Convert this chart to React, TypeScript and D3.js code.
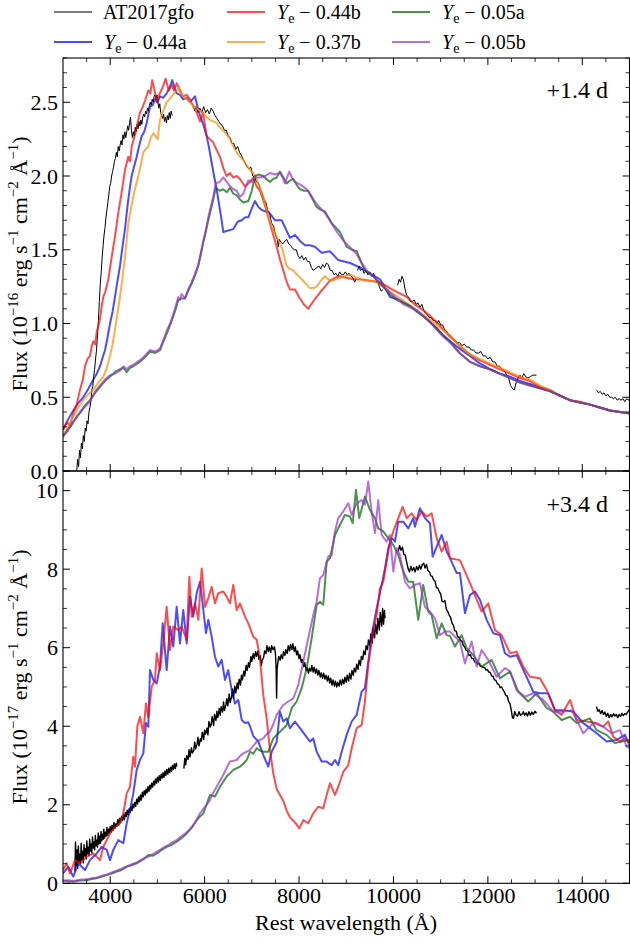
import React from 'react';
import * as d3 from 'd3';

type P = [number, number];

// ---------- axis ticks ----------
const X_MAJOR = [4000, 6000, 8000, 10000, 12000, 14000];
const TOP_YTICKS = [0, 0.5, 1.0, 1.5, 2.0, 2.5];
const BOT_YTICKS = [0, 2, 4, 6, 8, 10];

// ---------- top panel (+1.4 d) ----------
const obsTop1: P[] = [[3290,0.0],[3310,0.08],[3330,0.03],[3350,0.14],[3370,0.09],[3390,0.19],[3410,0.15],[3430,0.24],[3450,0.2],[3470,0.29],[3490,0.27],[3510,0.34],[3530,0.32],[3550,0.4],[3570,0.43],[3590,0.47],[3610,0.55],[3630,0.57],[3650,0.64],[3670,0.69],[3690,0.76],[3710,0.82],[3730,0.92],[3750,1.02],[3770,1.15],[3790,1.27],[3810,1.35],[3830,1.45],[3850,1.53],[3870,1.6],[3890,1.65],[3910,1.72],[3930,1.77],[3950,1.82],[3970,1.87],[3990,1.93],[4010,1.95],[4030,2.0],[4050,2.03],[4070,2.06],[4090,2.1],[4110,2.12],[4130,2.16],[4150,2.13],[4170,2.2],[4190,2.17],[4210,2.21],[4230,2.24],[4250,2.21],[4270,2.28],[4290,2.25],[4310,2.3],[4330,2.26],[4350,2.3],[4370,2.34],[4390,2.31],[4410,2.36],[4430,2.4],[4450,2.31],[4470,2.26],[4490,2.3],[4510,2.27],[4530,2.33],[4550,2.3],[4570,2.35],[4590,2.32],[4610,2.37],[4630,2.34],[4650,2.38],[4670,2.35],[4690,2.4],[4710,2.42],[4730,2.4],[4750,2.44],[4770,2.42],[4790,2.46],[4810,2.44],[4830,2.48],[4850,2.5],[4870,2.48],[4890,2.52],[4910,2.5],[4930,2.54],[4950,2.55],[4970,2.52],[4990,2.55],[5010,2.5],[5030,2.46],[5050,2.49],[5070,2.43],[5090,2.41],[5110,2.39],[5130,2.42],[5150,2.37],[5170,2.4],[5190,2.36],[5210,2.41],[5230,2.38],[5250,2.43],[5270,2.39],[5290,2.44],[5315,2.41]];
const obsTop2: P[] = [[5780,2.44],[5820,2.47],[5860,2.43],[5900,2.46],[5940,2.43],[5980,2.47],[6020,2.43],[6060,2.45],[6100,2.42],[6140,2.46],[6180,2.44],[6220,2.41],[6260,2.39],[6300,2.37],[6340,2.35],[6380,2.34],[6420,2.31],[6460,2.31],[6500,2.27],[6540,2.26],[6580,2.22],[6620,2.22],[6660,2.18],[6700,2.2],[6740,2.16],[6780,2.14],[6820,2.11],[6860,2.09],[6900,2.06],[6940,2.05],[6980,2.06],[7020,2.0],[7060,1.99],[7100,1.96],[7140,1.95],[7180,1.91],[7220,1.88],[7260,1.84],[7300,1.82],[7340,1.76],[7380,1.74],[7420,1.68],[7460,1.66],[7500,1.6],[7540,1.57],[7560,1.52],[7580,1.57],[7620,1.55],[7660,1.54],[7700,1.56],[7740,1.57],[7780,1.54],[7820,1.53],[7860,1.51],[7900,1.5],[7940,1.5],[7980,1.46],[8020,1.44],[8060,1.46],[8100,1.43],[8140,1.45],[8180,1.42],[8220,1.42],[8260,1.38],[8300,1.36],[8340,1.37],[8380,1.38],[8420,1.39],[8460,1.37],[8500,1.4],[8540,1.38],[8580,1.41],[8620,1.4],[8660,1.36],[8700,1.36],[8740,1.33],[8780,1.34],[8820,1.32],[8860,1.35],[8900,1.33],[8940,1.33],[8980,1.35],[9020,1.33],[9060,1.34],[9100,1.32],[9140,1.31],[9180,1.28],[9206,1.3]];
const obsTop3: P[] = [[9240,1.36],[9270,1.39],[9300,1.36],[9340,1.37],[9380,1.34],[9420,1.36],[9460,1.33],[9500,1.35],[9540,1.32],[9580,1.34],[9620,1.3],[9660,1.29],[9700,1.25],[9740,1.22],[9780,1.23]];
const obsTop4: P[] = [[10090,1.26],[10120,1.3],[10150,1.28],[10180,1.32],[10210,1.3],[10240,1.24],[10280,1.19],[10320,1.18],[10360,1.15],[10400,1.15],[10440,1.16],[10480,1.13],[10520,1.14],[10560,1.11],[10600,1.13],[10640,1.09],[10680,1.07],[10720,1.06],[10760,1.04],[10800,1.04],[10840,1.02],[10880,1.02],[10920,1.0],[10960,1.02],[11000,0.99],[11040,0.99],[11080,0.96],[11120,0.95],[11160,0.93],[11200,0.92],[11250,0.9],[11300,0.89],[11350,0.87],[11400,0.87],[11450,0.85],[11500,0.86],[11550,0.84],[11600,0.84],[11650,0.82],[11700,0.82],[11750,0.8],[11800,0.8],[11850,0.81],[11900,0.78],[11950,0.78],[12000,0.76],[12050,0.77],[12100,0.74],[12150,0.74],[12200,0.71],[12250,0.71],[12300,0.69],[12350,0.68],[12400,0.65],[12440,0.63],[12480,0.58],[12520,0.56],[12560,0.55],[12600,0.6],[12640,0.63],[12680,0.65],[12720,0.63],[12760,0.66],[12800,0.64],[12850,0.63],[12900,0.64],[12950,0.65],[13030,0.65]];
const obsTop5: P[] = [[14300,0.55],[14340,0.53],[14380,0.54],[14420,0.52],[14460,0.53],[14500,0.51],[14540,0.52],[14580,0.5],[14620,0.5],[14660,0.49],[14700,0.5],[14740,0.48],[14780,0.49],[14820,0.48],[14860,0.49],[14900,0.47],[14940,0.49],[14980,0.48],[15000,0.49]];

const topYe044a: P[] = [[3000,0.28],[3110,0.35],[3218,0.41],[3320,0.46],[3430,0.5],[3540,0.56],[3642,0.62],[3714,0.66],[3784,0.71],[3840,0.77],[3890,0.82],[3940,0.9],[3996,1.0],[4050,1.08],[4101,1.18],[4150,1.28],[4207,1.39],[4260,1.52],[4313,1.64],[4350,1.75],[4383,1.84],[4420,1.93],[4455,2.0],[4510,2.07],[4561,2.13],[4610,2.2],[4667,2.27],[4720,2.3],[4773,2.36],[4843,2.47],[4900,2.48],[4949,2.52],[5000,2.5],[5054,2.54],[5120,2.53],[5196,2.56],[5260,2.6],[5315,2.65],[5360,2.6],[5408,2.56],[5480,2.55],[5548,2.52],[5620,2.53],[5690,2.5],[5740,2.52],[5796,2.54],[5850,2.47],[5902,2.41],[5970,2.35],[6044,2.27],[6100,2.18],[6149,2.09],[6200,2.0],[6255,1.91],[6290,1.84],[6325,1.77],[6360,1.7],[6395,1.62],[6500,1.63],[6607,1.64],[6700,1.69],[6785,1.7],[6860,1.72],[6925,1.72],[7000,1.78],[7067,1.83],[7140,1.79],[7208,1.77],[7280,1.76],[7348,1.76],[7420,1.73],[7490,1.7],[7560,1.7],[7632,1.7],[7720,1.64],[7808,1.58],[7914,1.6],[8020,1.56],[8126,1.53],[8230,1.53],[8337,1.52],[8479,1.48],[8655,1.49],[8831,1.43],[8950,1.42],[9079,1.41],[9290,1.38],[9502,1.34],[9714,1.3],[9830,1.24],[9926,1.18],[10138,1.16],[10300,1.13],[10491,1.09],[10670,1.04],[10843,0.99],[11020,0.93],[11197,0.88],[11400,0.83],[11620,0.78],[11830,0.73],[12044,0.69],[12250,0.66],[12468,0.64],[12680,0.61],[12891,0.59],[13100,0.565],[13315,0.545],[13530,0.51],[13739,0.48],[13950,0.465],[14163,0.45],[14370,0.43],[14586,0.41],[14800,0.4],[15010,0.39]];
const topYe044b: P[] = [[3000,0.28],[3080,0.33],[3150,0.31],[3218,0.39],[3290,0.45],[3360,0.55],[3420,0.62],[3466,0.71],[3520,0.76],[3572,0.78],[3610,0.85],[3642,0.88],[3680,0.86],[3714,0.94],[3784,1.03],[3820,1.12],[3854,1.18],[3900,1.22],[3960,1.3],[4031,1.45],[4101,1.59],[4171,1.75],[4243,1.89],[4313,2.04],[4383,2.13],[4420,2.1],[4455,2.2],[4525,2.28],[4580,2.36],[4631,2.43],[4690,2.47],[4737,2.51],[4807,2.58],[4850,2.56],[4891,2.65],[4940,2.58],[4991,2.5],[5050,2.56],[5110,2.6],[5175,2.66],[5240,2.58],[5300,2.62],[5350,2.58],[5408,2.63],[5480,2.58],[5542,2.54],[5620,2.55],[5690,2.52],[5760,2.47],[5832,2.43],[5902,2.37],[5965,2.43],[6044,2.27],[6110,2.25],[6177,2.23],[6250,2.18],[6325,2.13],[6400,2.05],[6467,2.0],[6540,2.02],[6607,1.99],[6680,2.0],[6749,1.98],[6855,1.93],[6961,1.96],[7031,1.99],[7100,1.93],[7172,1.9],[7242,1.84],[7314,1.76],[7384,1.68],[7454,1.6],[7526,1.52],[7600,1.43],[7666,1.36],[7740,1.28],[7808,1.23],[7914,1.23],[8000,1.18],[8100,1.13],[8195,1.1],[8300,1.15],[8443,1.21],[8550,1.25],[8655,1.29],[8760,1.31],[8867,1.32],[9000,1.31],[9149,1.3],[9300,1.3],[9502,1.29],[9714,1.28],[9926,1.24],[10100,1.21],[10280,1.18],[10450,1.13],[10631,1.09],[10780,1.05],[10915,1.01],[11050,0.96],[11197,0.91],[11400,0.85],[11620,0.79],[11830,0.75],[12044,0.72],[12250,0.69],[12468,0.66],[12680,0.63],[12891,0.61],[13100,0.57],[13315,0.55],[13530,0.51],[13739,0.48],[13950,0.47],[14163,0.45],[14370,0.43],[14586,0.41],[14800,0.4],[15010,0.39]];
const topYe037b: P[] = [[3000,0.245],[3110,0.3],[3218,0.37],[3320,0.43],[3430,0.48],[3540,0.52],[3642,0.55],[3750,0.6],[3854,0.64],[3930,0.7],[3996,0.78],[4050,0.86],[4101,0.96],[4150,1.06],[4207,1.18],[4260,1.31],[4313,1.45],[4350,1.57],[4383,1.68],[4440,1.78],[4489,1.86],[4540,1.93],[4595,2.0],[4650,2.08],[4701,2.16],[4750,2.18],[4807,2.2],[4860,2.26],[4913,2.29],[4960,2.27],[5006,2.25],[5054,2.38],[5120,2.44],[5196,2.5],[5250,2.52],[5302,2.54],[5370,2.57],[5442,2.59],[5500,2.56],[5548,2.54],[5620,2.52],[5690,2.5],[5760,2.48],[5832,2.46],[5900,2.44],[5972,2.43],[6040,2.4],[6113,2.38],[6180,2.37],[6255,2.36],[6320,2.33],[6395,2.31],[6470,2.28],[6537,2.25],[6610,2.2],[6679,2.16],[6750,2.13],[6819,2.11],[6890,2.07],[6961,2.04],[7030,2.02],[7103,1.98],[7170,1.92],[7242,1.86],[7310,1.78],[7384,1.7],[7450,1.64],[7526,1.59],[7580,1.55],[7632,1.52],[7690,1.45],[7738,1.39],[7800,1.37],[7878,1.36],[7960,1.33],[8056,1.3],[8140,1.27],[8231,1.24],[8300,1.24],[8373,1.25],[8460,1.29],[8549,1.32],[8620,1.3],[8691,1.29],[8780,1.3],[8867,1.31],[8970,1.32],[9079,1.33],[9180,1.32],[9290,1.3],[9430,1.29],[9572,1.29],[9680,1.27],[9784,1.25],[9960,1.21],[10138,1.17],[10320,1.13],[10491,1.09],[10670,1.05],[10843,1.01],[11020,0.96],[11197,0.92],[11400,0.85],[11620,0.79],[11830,0.76],[12044,0.73],[12250,0.7],[12468,0.67],[12680,0.64],[12891,0.62],[13100,0.58],[13315,0.55],[13530,0.51],[13739,0.48],[13950,0.465],[14163,0.45],[14370,0.43],[14586,0.41],[14800,0.4],[15010,0.39]];
const topYe005a: P[] = [[3000,0.23],[3100,0.28],[3200,0.32],[3290,0.37],[3380,0.4],[3480,0.45],[3572,0.48],[3680,0.53],[3784,0.57],[3890,0.61],[3996,0.64],[4100,0.67],[4207,0.69],[4280,0.7],[4349,0.67],[4420,0.7],[4489,0.71],[4580,0.73],[4667,0.75],[4760,0.78],[4843,0.81],[4950,0.8],[5054,0.82],[5130,0.88],[5196,0.93],[5270,0.99],[5336,1.05],[5390,1.1],[5442,1.16],[5510,1.17],[5584,1.17],[5650,1.22],[5726,1.27],[5800,1.33],[5866,1.39],[5920,1.47],[5972,1.55],[6030,1.63],[6078,1.7],[6130,1.77],[6183,1.84],[6234,1.92],[6320,1.9],[6395,1.91],[6470,1.89],[6537,1.92],[6610,1.88],[6679,1.87],[6750,1.84],[6819,1.82],[6925,1.83],[7000,1.9],[7067,2.0],[7150,2.01],[7242,2.0],[7310,1.98],[7384,1.96],[7450,1.98],[7526,1.99],[7596,2.03],[7670,1.99],[7738,1.95],[7810,1.97],[7878,1.98],[7950,1.94],[8020,1.91],[8110,1.9],[8195,1.9],[8290,1.84],[8373,1.79],[8460,1.77],[8549,1.76],[8620,1.72],[8691,1.68],[8780,1.65],[8867,1.62],[8940,1.57],[9009,1.52],[9120,1.5],[9221,1.49],[9310,1.42],[9396,1.36],[9480,1.34],[9572,1.32],[9680,1.28],[9784,1.25],[9920,1.2],[10068,1.16],[10210,1.14],[10349,1.12],[10490,1.08],[10631,1.05],[10770,1.01],[10915,0.97],[11050,0.92],[11197,0.88],[11400,0.8],[11620,0.74],[11830,0.71],[12044,0.69],[12250,0.66],[12468,0.63],[12680,0.6],[12891,0.58],[13100,0.56],[13315,0.54],[13530,0.51],[13739,0.48],[13950,0.465],[14163,0.45],[14370,0.43],[14586,0.41],[14800,0.4],[15010,0.39]];
const topYe005b: P[] = [[3000,0.24],[3100,0.27],[3200,0.33],[3290,0.36],[3380,0.41],[3480,0.44],[3572,0.47],[3680,0.54],[3784,0.58],[3890,0.62],[3996,0.65],[4100,0.66],[4207,0.68],[4280,0.71],[4349,0.69],[4420,0.71],[4489,0.72],[4580,0.74],[4667,0.76],[4760,0.79],[4843,0.82],[4950,0.81],[5054,0.83],[5130,0.89],[5196,0.95],[5270,1.0],[5336,1.06],[5390,1.12],[5442,1.18],[5480,1.16],[5510,1.2],[5584,1.17],[5650,1.23],[5726,1.28],[5800,1.34],[5866,1.4],[5920,1.48],[5972,1.56],[6030,1.64],[6078,1.72],[6130,1.79],[6183,1.86],[6234,1.95],[6320,1.96],[6395,1.99],[6470,1.96],[6537,1.93],[6610,1.91],[6679,1.9],[6750,1.86],[6819,1.88],[6925,1.97],[7000,1.96],[7067,1.99],[7172,1.99],[7280,2.0],[7384,2.02],[7490,2.01],[7596,2.02],[7650,1.99],[7702,1.95],[7793,2.03],[7850,1.99],[7914,1.96],[8040,1.94],[8162,1.91],[8270,1.86],[8373,1.81],[8460,1.78],[8549,1.75],[8650,1.7],[8761,1.64],[8870,1.59],[8973,1.55],[9100,1.51],[9221,1.47],[9330,1.41],[9432,1.36],[9540,1.33],[9644,1.3],[9780,1.25],[9926,1.21],[10070,1.17],[10208,1.13],[10350,1.11],[10491,1.09],[10630,1.05],[10773,1.01],[10910,0.96],[11055,0.91],[11197,0.87],[11400,0.8],[11620,0.74],[11830,0.71],[12044,0.69],[12250,0.66],[12468,0.63],[12680,0.6],[12891,0.58],[13100,0.56],[13315,0.54],[13530,0.51],[13739,0.48],[13950,0.465],[14163,0.45],[14370,0.43],[14586,0.41],[14800,0.4],[15010,0.39]];

// ---------- bottom panel (+3.4 d) ----------
const obsBot1: P[] = [[3254,0.3],[3265,1.05],[3280,0.45],[3295,0.85],[3310,0.38],[3325,0.95],[3340,0.55],[3355,0.75],[3370,0.5],[3385,1.02],[3400,0.6],[3415,0.82],[3430,0.52],[3445,0.98],[3460,0.7],[3475,0.88],[3490,0.62],[3505,1.08],[3520,0.75],[3535,0.92],[3550,0.7],[3565,1.12],[3580,0.82],[3595,1.0],[3610,0.78],[3625,1.18],[3640,0.9],[3655,1.05],[3670,0.85],[3685,1.22],[3700,0.95],[3715,1.1],[3730,0.92],[3745,1.28],[3760,1.0],[3775,1.2],[3790,1.02],[3805,1.32],[3820,1.08],[3835,1.25],[3850,1.12],[3865,1.38],[3880,1.15],[3900,1.3],[3915,1.2],[3930,1.42],[3950,1.22],[3965,1.38],[3980,1.28],[4000,1.45],[4020,1.3],[4040,1.48],[4060,1.35],[4080,1.55],[4100,1.4],[4120,1.52],[4140,1.45],[4160,1.62],[4180,1.48],[4200,1.66],[4220,1.55],[4240,1.7],[4260,1.6],[4280,1.75],[4300,1.62],[4320,1.8],[4340,1.7],[4360,1.86],[4380,1.74],[4400,1.9],[4420,1.8],[4440,1.96],[4460,1.85],[4480,2.02],[4500,1.92],[4520,2.06],[4540,1.96],[4560,2.14],[4580,2.02],[4600,2.2],[4620,2.08],[4640,2.25],[4660,2.12],[4680,2.32],[4700,2.2],[4720,2.36],[4740,2.25],[4760,2.4],[4780,2.3],[4800,2.46],[4820,2.34],[4840,2.5],[4860,2.4],[4880,2.55],[4900,2.45],[4920,2.6],[4940,2.5],[4960,2.66],[4980,2.55],[5000,2.7],[5020,2.58],[5040,2.74],[5060,2.62],[5080,2.78],[5100,2.68],[5120,2.82],[5140,2.7],[5160,2.86],[5180,2.75],[5200,2.9],[5220,2.78],[5240,2.93],[5260,2.82],[5280,2.96],[5300,2.85],[5320,3.0],[5340,2.9],[5360,3.04],[5380,2.92],[5400,3.06],[5410,2.98]];
const obsBot2: P[] = [[5560,2.92],[5580,3.18],[5600,3.02],[5620,3.25],[5650,3.15],[5670,3.4],[5690,3.22],[5720,3.45],[5740,3.32],[5770,3.38],[5790,3.6],[5810,3.42],[5840,3.55],[5860,3.72],[5880,3.5],[5910,3.68],[5930,3.62],[5950,3.85],[5980,3.66],[6000,3.9],[6020,3.8],[6050,3.95],[6070,3.78],[6090,4.12],[6120,3.98],[6140,4.05],[6160,4.25],[6190,4.02],[6210,4.3],[6240,4.15],[6260,4.38],[6280,4.22],[6310,4.45],[6330,4.28],[6350,4.5],[6380,4.36],[6400,4.62],[6420,4.4],[6450,4.55],[6470,4.7],[6490,4.52],[6520,4.82],[6540,4.6],[6570,4.75],[6590,4.95],[6610,4.72],[6640,5.02],[6660,4.85],[6690,5.1],[6710,4.95],[6730,5.2],[6760,5.05],[6780,5.3],[6800,5.18],[6830,5.4],[6850,5.28],[6880,5.55],[6900,5.42],[6930,5.62],[6950,5.5],[6980,5.78],[7000,5.65],[7030,5.85],[7050,5.72],[7080,5.9],[7100,5.78],[7130,5.92],[7150,5.7],[7180,5.8],[7200,5.55],[7220,5.68],[7250,5.75],[7270,5.92],[7300,5.85],[7320,6.05],[7350,5.9],[7370,6.02],[7400,5.88],[7420,6.05],[7450,5.95],[7480,6.02],[7500,5.85],[7515,5.45],[7525,4.72],[7535,5.45],[7550,5.62],[7570,5.78],[7600,5.68],[7620,5.82],[7650,5.72],[7670,5.9],[7700,5.8],[7720,5.95],[7750,5.85],[7770,6.05],[7800,5.92],[7820,6.08],[7850,5.95],[7870,6.1],[7900,5.9],[7920,6.02],[7950,5.82],[7970,5.92],[8000,5.72],[8020,5.82],[8050,5.62],[8070,5.7],[8100,5.52],[8120,5.62],[8150,5.42],[8170,5.5],[8200,5.35],[8220,5.48],[8250,5.4],[8270,5.55],[8300,5.38],[8320,5.5],[8350,5.35],[8370,5.46],[8400,5.3],[8420,5.42],[8450,5.25],[8470,5.36],[8500,5.22],[8520,5.35],[8550,5.2],[8570,5.3],[8600,5.15],[8620,5.28],[8650,5.1],[8670,5.22],[8700,5.05],[8720,5.18],[8750,5.02],[8770,5.15],[8800,5.0],[8820,5.12],[8850,5.02],[8870,5.18],[8900,5.05],[8920,5.2],[8950,5.08],[8970,5.25],[9000,5.12],[9020,5.3],[9050,5.15],[9070,5.35],[9100,5.2],[9120,5.42],[9150,5.3],[9170,5.48],[9200,5.38],[9220,5.58],[9250,5.45],[9270,5.68],[9300,5.55],[9320,5.78],[9350,5.7],[9370,5.92],[9400,5.82],[9420,6.05],[9450,5.95],[9470,6.2],[9500,6.05],[9520,6.35],[9550,6.12],[9570,6.5],[9600,6.25],[9620,6.6],[9650,6.35],[9670,6.75],[9700,6.45],[9720,6.9],[9750,6.55],[9770,7.0],[9790,6.6],[9810,6.95],[9820,6.75]];
const obsBot3: P[] = [[10100,8.45],[10130,8.6],[10160,8.48],[10190,8.56],[10220,8.38],[10250,8.36],[10280,8.18],[10310,8.02],[10340,7.93],[10370,8.07],[10400,7.96],[10430,8.04],[10460,7.93],[10490,8.07],[10520,7.98],[10550,8.1],[10580,8.0],[10610,8.12],[10640,8.15],[10670,8.03],[10700,8.12],[10730,7.96],[10760,7.94],[10790,7.83],[10820,7.82],[10850,7.73],[10880,7.7],[10910,7.53],[10940,7.52],[10970,7.43],[11000,7.37],[11030,7.18],[11060,7.17],[11090,7.2],[11120,6.98],[11150,6.92],[11180,6.83],[11210,6.77],[11240,6.63],[11270,6.57],[11300,6.43],[11330,6.42],[11360,6.28],[11390,6.27],[11420,6.18],[11450,6.17],[11480,6.06],[11510,6.02],[11540,5.93],[11570,5.92],[11600,5.8],[11630,5.82],[11660,5.73],[11690,5.72],[11720,5.64],[11750,5.64],[11780,5.58],[11810,5.6],[11840,5.53],[11870,5.52],[11900,5.5],[11930,5.5],[11960,5.43],[11990,5.44],[12020,5.38],[12050,5.37],[12080,5.28],[12110,5.27],[12140,5.18],[12170,5.17],[12200,5.08],[12230,5.07],[12260,4.98],[12290,5.0],[12320,4.93],[12350,4.87],[12380,4.78],[12410,4.77],[12440,4.63],[12470,4.57],[12500,4.38],[12520,4.22],[12540,4.2],[12570,4.37],[12600,4.28],[12630,4.26],[12660,4.37],[12690,4.28],[12720,4.3],[12750,4.37],[12780,4.28],[12810,4.34],[12840,4.26],[12870,4.37],[12900,4.28],[12930,4.36],[12960,4.3],[13000,4.38],[13030,4.33]];
const obsBot4: P[] = [[14300,4.5],[14330,4.38],[14360,4.42],[14390,4.32],[14420,4.4],[14450,4.3],[14480,4.36],[14510,4.25],[14540,4.33],[14570,4.22],[14600,4.3],[14630,4.24],[14660,4.32],[14690,4.26],[14720,4.3],[14750,4.22],[14780,4.3],[14810,4.25],[14840,4.33],[14870,4.27],[14900,4.32],[14930,4.3],[14960,4.36],[14990,4.42],[15000,4.38]];

const botYe044a: P[] = [[3000,0.25],[3112,0.42],[3218,0.17],[3324,0.51],[3466,0.34],[3572,0.59],[3714,0.76],[3820,0.93],[3926,0.85],[3996,0.59],[4065,0.85],[4171,1.1],[4277,1.02],[4349,1.53],[4419,1.87],[4489,2.29],[4561,2.89],[4631,3.14],[4701,3.31],[4758,4.08],[4807,3.99],[4843,5.43],[4913,5.18],[4985,5.09],[5054,5.52],[5112,6.62],[5196,5.43],[5267,6.54],[5336,6.03],[5408,7.04],[5478,6.11],[5548,6.96],[5620,6.11],[5690,7.3],[5760,6.79],[5832,7.39],[5902,7.68],[5972,6.96],[6029,6.37],[6078,6.71],[6149,6.28],[6219,5.77],[6289,5.52],[6361,5.69],[6431,5.18],[6501,5.43],[6573,4.92],[6643,4.58],[6713,4.67],[6785,4.16],[6855,4.08],[6925,4.1],[6961,4.0],[7031,3.75],[7137,3.61],[7242,3.27],[7348,2.97],[7420,3.35],[7526,3.6],[7596,4.37],[7666,4.12],[7738,4.2],[7808,3.95],[7914,4.12],[8020,3.95],[8126,3.78],[8231,3.61],[8301,3.69],[8373,3.35],[8479,3.1],[8585,3.1],[8691,3.01],[8761,3.14],[8831,3.01],[8903,3.35],[9009,3.78],[9115,4.12],[9221,4.29],[9326,4.88],[9396,4.97],[9466,5.64],[9538,6.32],[9644,7.0],[9750,7.6],[9820,8.02],[9890,8.53],[9962,8.79],[10032,8.7],[10102,9.21],[10208,9.21],[10314,9.04],[10419,9.3],[10455,9.08],[10561,9.55],[10667,9.3],[10773,9.17],[10830,8.32],[10915,8.57],[11021,8.87],[11127,8.45],[11197,8.28],[11339,7.9],[11408,7.9],[11514,6.88],[11620,7.34],[11726,7.43],[11832,7.22],[11974,6.71],[12114,6.37],[12256,6.32],[12362,5.86],[12468,5.77],[12609,5.81],[12785,5.35],[12961,4.88],[13103,4.84],[13279,4.84],[13421,4.41],[13597,4.41],[13809,4.37],[14021,4.08],[14304,3.82],[14515,3.61],[14728,3.65],[14904,3.78],[15010,3.48]];
const botYe044b: P[] = [[3000,0.34],[3078,0.51],[3148,0.25],[3254,0.59],[3360,0.51],[3502,0.68],[3642,0.76],[3784,0.59],[3854,0.93],[3996,1.27],[4101,1.44],[4207,1.53],[4277,1.78],[4349,2.29],[4419,2.46],[4489,3.22],[4525,2.97],[4574,3.99],[4631,4.24],[4701,3.82],[4758,4.58],[4807,4.24],[4879,5.01],[4949,5.18],[4985,5.86],[5054,5.43],[5124,6.11],[5196,7.04],[5267,5.94],[5336,6.54],[5442,6.45],[5514,6.54],[5620,6.2],[5675,7.81],[5726,6.79],[5796,7.13],[5866,6.71],[5938,8.02],[6008,7.04],[6078,7.26],[6149,7.55],[6219,7.13],[6289,7.39],[6395,7.43],[6467,7.3],[6537,7.13],[6607,7.6],[6679,6.96],[6749,7.13],[6855,6.79],[6925,6.62],[7031,6.28],[7103,6.2],[7172,5.73],[7242,4.8],[7314,4.2],[7384,3.4],[7454,2.8],[7526,2.4],[7596,2.25],[7666,2.1],[7738,1.85],[7808,1.68],[7914,1.55],[8005,1.4],[8090,1.61],[8195,1.53],[8301,1.78],[8407,1.95],[8513,1.91],[8585,2.25],[8655,2.55],[8761,2.25],[8831,2.46],[8937,2.84],[9043,3.01],[9115,3.44],[9221,3.95],[9326,4.03],[9396,4.63],[9466,5.56],[9572,6.41],[9644,6.83],[9714,7.51],[9784,7.68],[9856,8.19],[9926,8.7],[9996,8.96],[10102,9.3],[10195,9.59],[10280,9.3],[10385,9.42],[10491,9.25],[10597,9.47],[10703,9.34],[10809,9.42],[10915,8.79],[11021,8.45],[11127,8.7],[11197,8.28],[11408,8.23],[11656,7.55],[11868,6.92],[12008,7.13],[12150,6.45],[12292,6.32],[12468,5.86],[12609,5.9],[12749,5.52],[12891,5.26],[13103,5.22],[13245,4.92],[13421,4.41],[13562,4.29],[13739,4.67],[13880,4.16],[14093,4.12],[14304,4.08],[14443,3.99],[14550,4.12],[14656,3.73],[14798,3.61],[14904,3.69],[15010,3.57]];
const botYe005a: P[] = [[3000,0.08],[3110,0.05],[3218,0.04],[3360,0.07],[3502,0.08],[3610,0.11],[3714,0.13],[3820,0.17],[3926,0.21],[4030,0.25],[4137,0.3],[4240,0.34],[4349,0.42],[4450,0.46],[4561,0.51],[4690,0.6],[4807,0.72],[4900,0.7],[4985,0.76],[5090,0.85],[5196,0.93],[5300,0.98],[5408,1.06],[5510,1.15],[5620,1.27],[5730,1.42],[5832,1.61],[5900,1.7],[5972,1.78],[6040,2.0],[6113,2.25],[6219,2.21],[6325,2.46],[6400,2.6],[6467,2.72],[6537,2.8],[6607,2.89],[6680,2.93],[6749,2.97],[6820,3.05],[6891,3.14],[6961,3.35],[7031,3.3],[7103,3.44],[7172,3.38],[7242,3.35],[7348,3.35],[7454,3.69],[7596,3.86],[7738,4.03],[7844,4.46],[7950,4.63],[8056,4.97],[8162,5.48],[8267,6.24],[8373,7.09],[8443,7.17],[8513,7.09],[8585,8.19],[8655,8.28],[8761,8.87],[8867,9.13],[8973,9.38],[9079,9.34],[9136,9.17],[9206,10.02],[9276,9.3],[9396,9.85],[9502,9.51],[9608,9.3],[9678,9.04],[9784,8.96],[9890,8.79],[9996,8.62],[10102,8.36],[10174,8.07],[10244,7.85],[10314,7.68],[10419,7.68],[10525,6.71],[10631,7.6],[10737,6.92],[10809,6.83],[10915,6.24],[11021,6.62],[11127,6.32],[11197,6.3],[11303,6.03],[11444,6.32],[11550,5.99],[11690,5.81],[11868,5.52],[12080,5.69],[12256,5.22],[12468,5.39],[12643,4.88],[12855,4.63],[13033,4.84],[13245,4.46],[13385,4.37],[13562,4.16],[13739,4.24],[13880,4.08],[14163,4.2],[14304,3.9],[14515,3.78],[14692,3.57],[14834,3.61],[15010,3.65]];
const botYe005b: P[] = [[3000,0.06],[3110,0.08],[3218,0.06],[3360,0.09],[3502,0.1],[3610,0.13],[3714,0.15],[3820,0.19],[3926,0.22],[4030,0.27],[4137,0.32],[4240,0.37],[4349,0.43],[4450,0.48],[4561,0.53],[4690,0.62],[4807,0.68],[4900,0.74],[4985,0.8],[5090,0.88],[5196,0.95],[5300,1.03],[5408,1.1],[5510,1.2],[5620,1.3],[5690,1.38],[5760,1.48],[5832,1.62],[5902,1.78],[6010,1.95],[6113,2.12],[6180,2.3],[6255,2.46],[6320,2.6],[6395,2.76],[6470,2.95],[6537,3.1],[6610,3.12],[6679,3.14],[6750,3.24],[6819,3.31],[6890,3.35],[6961,3.4],[7031,3.5],[7103,3.61],[7172,3.65],[7242,3.69],[7314,3.8],[7384,3.86],[7454,4.05],[7526,4.29],[7596,4.42],[7666,4.54],[7772,4.63],[7878,4.71],[7984,5.05],[8090,5.64],[8195,6.24],[8301,6.83],[8373,7.17],[8443,7.77],[8513,7.85],[8619,8.32],[8691,8.36],[8761,8.96],[8831,9.3],[8937,9.47],[9043,9.68],[9115,9.38],[9221,9.68],[9326,9.76],[9396,9.64],[9466,10.23],[9538,9.47],[9608,8.92],[9678,9.76],[9750,8.87],[9856,8.7],[9926,8.87],[9996,7.94],[10068,8.53],[10138,8.36],[10244,7.68],[10349,7.51],[10455,7.6],[10561,7.64],[10667,7.04],[10773,6.92],[10879,6.75],[10985,6.32],[11091,6.41],[11197,6.41],[11408,6.16],[11514,5.6],[11656,6.16],[11762,5.52],[11868,5.94],[12008,5.69],[12186,5.26],[12362,5.48],[12468,5.4],[12609,4.92],[12785,4.75],[12961,4.84],[13173,4.67],[13385,4.37],[13597,4.37],[13774,4.41],[14021,3.82],[14233,4.08],[14443,3.99],[14622,3.82],[14798,3.9],[14940,3.48],[15010,3.44]];

// ---------- styles ----------
const FONT = "'Liberation Serif', 'DejaVu Serif', serif";
const C_OBS = '#000000';
const C_044A = '#0000ff';
const C_044B = '#ff0000';
const C_037B = '#ff8c00';
const C_005A = '#006400';
const C_005B = '#9932cc';
const ALPHA = 0.7;

const X0 = 63, X1 = 629.5;
const TOP_Y0 = 58, MID_Y = 471, BOT_Y1 = 883.3;

const xScale = d3.scaleLinear().domain([3000, 15000]).range([X0, X1]);
const yTop = d3.scaleLinear().domain([0, 2.8]).range([MID_Y, TOP_Y0]);
const yBot = d3.scaleLinear().domain([0, 10.5]).range([BOT_Y1, MID_Y]);

type Series = { data: P[]; color: string; width: number; opacity: number };

function Panel(props: {
  y: d3.ScaleLinear<number, number>;
  yTicks: number[];
  yMinor: number[];
  fmt: (v: number) => string;
  series: Series[];
  clipId: string;
  tag: string;
  tagY: number;
  showXLabels: boolean;
}) {
  const { y, yTicks, yMinor, fmt, series, clipId, tag, tagY, showXLabels } = props;
  const [yb, yt] = y.range();
  const line = d3.line<P>().x(d => xScale(d[0])).y(d => y(d[1]));
  const xMinor = d3.range(3500, 15000, 500).filter(v => v % 2000 !== 0);
  const MJ = 7, MN = 4;
  return (
    <g>
      <defs>
        <clipPath id={clipId}>
          <rect x={X0} y={yt} width={X1 - X0} height={yb - yt} />
        </clipPath>
      </defs>
      <g clipPath={`url(#${clipId})`}>
        {series.map((s, i) => (
          <path key={i} d={line(s.data) || ''} fill="none" stroke={s.color} strokeWidth={s.width}
            strokeOpacity={s.opacity} strokeLinejoin="round" />
        ))}
      </g>
      <rect x={X0} y={yt} width={X1 - X0} height={yb - yt} fill="none" stroke="#000" strokeWidth={1.1} />
      {X_MAJOR.map(v => (
        <g key={'xm' + v}>
          <line x1={xScale(v)} x2={xScale(v)} y1={yb} y2={yb - MJ} stroke="#000" strokeWidth={1} />
          <line x1={xScale(v)} x2={xScale(v)} y1={yt} y2={yt + MJ} stroke="#000" strokeWidth={1} />
        </g>
      ))}
      {xMinor.map(v => (
        <g key={'xn' + v}>
          <line x1={xScale(v)} x2={xScale(v)} y1={yb} y2={yb - MN} stroke="#000" strokeWidth={0.8} />
          <line x1={xScale(v)} x2={xScale(v)} y1={yt} y2={yt + MN} stroke="#000" strokeWidth={0.8} />
        </g>
      ))}
      {yTicks.map(v => (
        <g key={'ym' + v}>
          <line x1={X0} x2={X0 + MJ} y1={y(v)} y2={y(v)} stroke="#000" strokeWidth={1} />
          <line x1={X1} x2={X1 - MJ} y1={y(v)} y2={y(v)} stroke="#000" strokeWidth={1} />
          <text x={X0 - 5} y={y(v)} dy="0.35em" textAnchor="end" fontSize={22}>{fmt(v)}</text>
        </g>
      ))}
      {yMinor.map(v => (
        <g key={'yn' + v}>
          <line x1={X0} x2={X0 + MN} y1={y(v)} y2={y(v)} stroke="#000" strokeWidth={0.8} />
          <line x1={X1} x2={X1 - MN} y1={y(v)} y2={y(v)} stroke="#000" strokeWidth={0.8} />
        </g>
      ))}
      {showXLabels && X_MAJOR.map(v => (
        <text key={'xl' + v} x={xScale(v)} y={yb + 20} textAnchor="middle" fontSize={22}>{v}</text>
      ))}
      <text x={608} y={tagY} textAnchor="end" fontSize={24}>{tag}</text>
    </g>
  );
}

function YLabel({ exp, cy }: { exp: string; cy: number }) {
  const sup = 15, d = 9;
  return (
    <text transform={`translate(27, ${cy}) rotate(-90)`} textAnchor="middle" fontSize={22}>
      Flux (10<tspan dy={-d} fontSize={sup}>{exp}</tspan>
      <tspan dy={d}> erg s</tspan><tspan dy={-d} fontSize={sup}>−1</tspan>
      <tspan dy={d}> cm</tspan><tspan dy={-d} fontSize={sup}>−2</tspan>
      <tspan dy={d}> Å</tspan><tspan dy={-d} fontSize={sup}>−1</tspan>
      <tspan dy={d}>)</tspan>
    </text>
  );
}

const LEGEND = [
  { label: 'AT2017gfo', color: C_OBS, w: 1.2, op: 1, col: 0, row: 0 },
  { label: '0.44a', color: C_044A, w: 2, op: ALPHA, col: 0, row: 1 },
  { label: '0.44b', color: C_044B, w: 2, op: ALPHA, col: 1, row: 0 },
  { label: '0.37b', color: C_037B, w: 2, op: ALPHA, col: 1, row: 1 },
  { label: '0.05a', color: C_005A, w: 2, op: ALPHA, col: 2, row: 0 },
  { label: '0.05b', color: C_005B, w: 2, op: ALPHA, col: 2, row: 1 },
];
const LEG_COL_X = [54, 227, 392];
const LEG_ROW_Y = [12, 42];

export default function App() {
  const minorTop = d3.range(0, 2.81, 0.1).map(v => +v.toFixed(2)).filter(v => Math.abs(v * 2 - Math.round(v * 2)) > 1e-6);
  const minorBot = d3.range(0, 10.51, 0.5).filter(v => v % 2 !== 0);
  const topSeries: Series[] = [
    ...[obsTop1, obsTop2, obsTop3, obsTop4, obsTop5].map(d => ({ data: d, color: C_OBS, width: 1, opacity: 1 })),
    { data: topYe044a, color: C_044A, width: 2, opacity: ALPHA },
    { data: topYe044b, color: C_044B, width: 2, opacity: ALPHA },
    { data: topYe037b, color: C_037B, width: 2, opacity: ALPHA },
    { data: topYe005a, color: C_005A, width: 2, opacity: ALPHA },
    { data: topYe005b, color: C_005B, width: 2, opacity: ALPHA },
  ];
  const botSeries: Series[] = [
    ...[obsBot1, obsBot2, obsBot3, obsBot4].map(d => ({ data: d, color: C_OBS, width: 1.4, opacity: 1 })),
    { data: botYe044a, color: C_044A, width: 2, opacity: ALPHA },
    { data: botYe044b, color: C_044B, width: 2, opacity: ALPHA },
    { data: botYe005a, color: C_005A, width: 2, opacity: ALPHA },
    { data: botYe005b, color: C_005B, width: 2, opacity: ALPHA },
  ];
  return (
    <svg width={630} height={942} style={{ position: 'fixed', left: 0, top: 0, background: '#fff', fontFamily: FONT }}
      fontFamily={FONT} xmlns="http://www.w3.org/2000/svg">
      <rect x={0} y={0} width={630} height={942} fill="#fff" />
      {LEGEND.map((l, i) => {
        const x = LEG_COL_X[l.col], y = LEG_ROW_Y[l.row];
        return (
          <g key={i}>
            <line x1={x} x2={x + 38} y1={y} y2={y} stroke={l.color} strokeWidth={l.w} strokeOpacity={l.op} />
            {l.label === 'AT2017gfo' ? (
              <text x={x + 49} y={y + 7} fontSize={20}>AT2017gfo</text>
            ) : (
              <text x={x + 50} y={y + 7} fontSize={20}>
                <tspan fontStyle="italic">Y</tspan><tspan dy={4} fontSize={14}>e</tspan>
                <tspan dy={-4}> − {l.label}</tspan>
              </text>
            )}
          </g>
        );
      })}
      <Panel y={yTop} yTicks={TOP_YTICKS} yMinor={minorTop} fmt={v => v.toFixed(1)} series={topSeries}
        clipId="clipTop" tag="+1.4 d" tagY={98} showXLabels={false} />
      <Panel y={yBot} yTicks={BOT_YTICKS} yMinor={minorBot} fmt={v => String(v)} series={botSeries}
        clipId="clipBot" tag="+3.4 d" tagY={512} showXLabels={true} />
      <YLabel exp="−16" cy={264} />
      <YLabel exp="−17" cy={677} />
      <text x={346} y={930} textAnchor="middle" fontSize={22}>Rest wavelength (Å)</text>
    </svg>
  );
}
